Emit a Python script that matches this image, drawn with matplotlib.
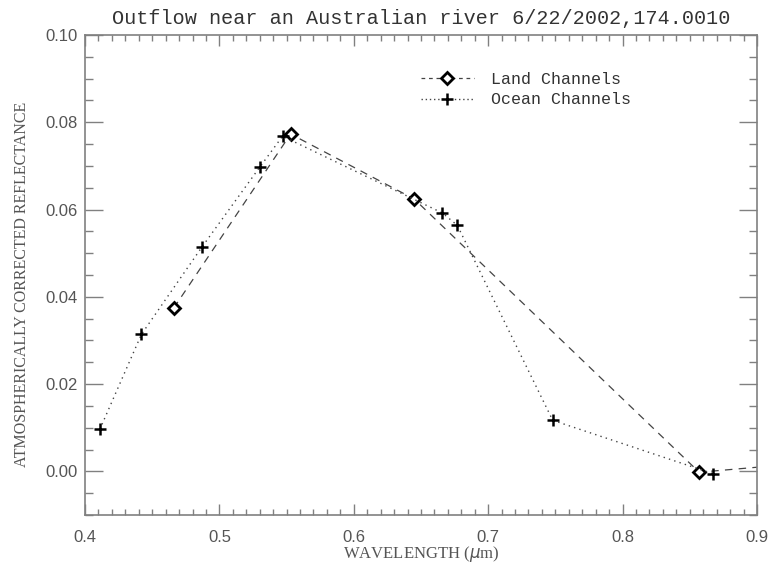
import matplotlib.pyplot as plt
from matplotlib.ticker import MultipleLocator, FormatStrFormatter
from matplotlib.lines import Line2D

# MODIS land channels (last one lies beyond the plotted range)
land_wl = [0.466, 0.553, 0.645, 0.857, 1.24]
land_refl = [0.0374, 0.0773, 0.0624, -0.0002, 0.010]

# ocean color channels
ocean_wl = [0.411, 0.442, 0.487, 0.530, 0.547, 0.666, 0.677, 0.748, 0.867]
ocean_refl = [0.0096, 0.0314, 0.0514, 0.0697, 0.0768, 0.0592, 0.0564, 0.0117, -0.0005]

title = 'Outflow near an Australian river 6/22/2002,174.0010'
xlabel = r'WAVELENGTH ($\mu$m)'
ylabel = 'ATMOSPHERICALLY CORRECTED REFLECTANCE'

axcol = '#808080'
txtcol = '#555555'

fig = plt.figure(figsize=(7.74, 5.67), dpi=100)
ax = fig.add_axes([0.1098, 0.0917, 0.8682, 0.8466])

ax.plot(land_wl, land_refl, color='#444444', ls=(0, (6, 5)), lw=0.9,
        marker='D', ms=6, mfc='white', mec='black', mew=2.0)
ax.plot(ocean_wl, ocean_refl, color='#444444', ls=(0, (1, 3)), lw=1.0,
        marker='+', ms=9, mec='black', mew=1.8)

ax.set_xlim(0.4, 0.9)
ax.set_ylim(-0.01, 0.10)
ax.xaxis.set_major_locator(MultipleLocator(0.1))
ax.xaxis.set_minor_locator(MultipleLocator(0.01))
ax.yaxis.set_major_locator(MultipleLocator(0.02))
ax.yaxis.set_minor_locator(MultipleLocator(0.005))
ax.xaxis.set_major_formatter(FormatStrFormatter('%.1f'))
ax.yaxis.set_major_formatter(FormatStrFormatter('%.2f'))

ax.tick_params(which='both', direction='in', top=True, right=True,
               color=axcol, labelcolor=txtcol, labelsize=12)
ax.tick_params(axis='x', which='major', length=8, width=1, pad=11)
ax.tick_params(axis='x', which='minor', length=4, width=1)
ax.tick_params(axis='y', which='major', length=13, width=1, pad=5)
ax.tick_params(axis='y', which='minor', length=6, width=1)
for s in ax.spines.values():
    s.set_color(axcol)
    s.set_linewidth(1.2)
for lab in ax.get_xticklabels() + ax.get_yticklabels():
    lab.set_family('Liberation Sans')

ax.set_title(title, family='Liberation Mono', fontsize=14.5, color='#333333', pad=8)
ax.set_xlabel(xlabel, family='Liberation Serif', fontsize=12, color=txtcol, va='center')
ax.set_ylabel(ylabel, family='Liberation Serif', fontsize=11.5, color=txtcol)
ax.xaxis.set_label_coords(0.5, -0.082)
ax.yaxis.set_label_coords(-0.082, 0.48)

handles = [
    Line2D([], [], color='#444444', ls=(0, (3, 3)), lw=0.9, marker='D', ms=6,
           mfc='white', mec='black', mew=2.0),
    Line2D([], [], color='#444444', ls=(0, (1, 2)), lw=1.0, marker='+', ms=9,
           mec='black', mew=1.8),
]
leg = ax.legend(handles, ['Land Channels', 'Ocean Channels'], loc='upper left',
                bbox_to_anchor=(0.477, 0.955), frameon=False, handlelength=3.2,
                handletextpad=1.0, labelspacing=0.35,
                prop={'family': 'Liberation Mono', 'size': 12})
for t in leg.get_texts():
    t.set_color('#333333')

fig.savefig('out.png', dpi=100)
